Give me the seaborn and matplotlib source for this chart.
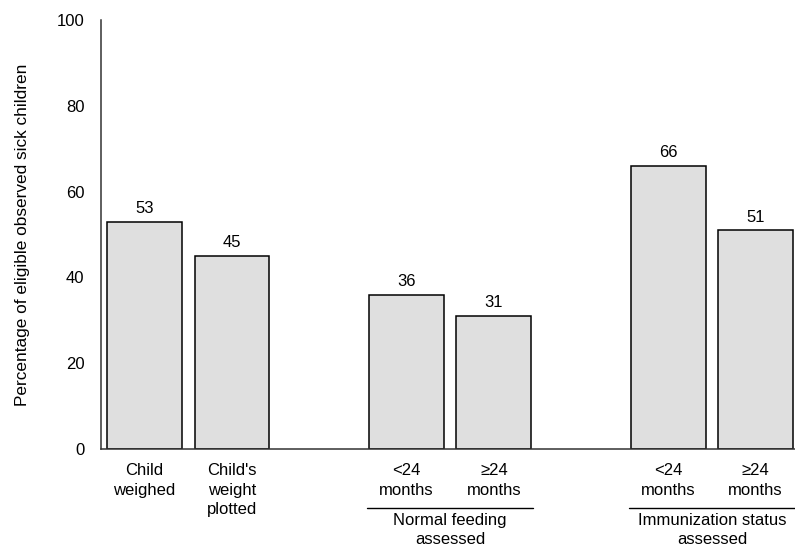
import matplotlib
matplotlib.use("Agg")
import matplotlib.pyplot as plt
import seaborn as sns
import pandas as pd

categories = ["Child\nweighed", "Child's\nweight\nplotted", "<24\nmonths", "≥24\nmonths", "<24\nmonths", "≥24\nmonths"]
positions = [0, 1, 3, 4, 6, 7]
values = [53, 45, 36, 31, 66, 51]
groups = ["Normal feeding\nassessed", "Immunization status\nassessed"]
group_spans = [(3, 4), (6, 7)]
y_ticks = [0, 20, 40, 60, 80, 100]

sns.set_style("white")
plt.rcParams['font.family'] = ['Liberation Sans', 'DejaVu Sans']
for k in ["text.color", "axes.labelcolor", "xtick.color", "ytick.color"]:
    plt.rcParams[k] = "black"

FS = 12

df = pd.DataFrame({"pos": positions, "val": values})

fig = plt.figure(figsize=(7.95, 5.48), dpi=100)
ax = fig.add_axes([101/795, 1-449/548, 1-101/795, (449-20)/548])

sns.barplot(data=df, x="pos", y="val", native_scale=True, width=0.857,
            color="#dfdfdf", saturation=1, edgecolor="black", linewidth=1.1, ax=ax)

ax.set_xlim(-0.5, 7.45)
ax.set_ylim(0, 100)
ax.set_yticks(y_ticks)
ax.set_yticklabels([str(t) for t in y_ticks], fontsize=FS)
ax.set_xticks(positions)
ax.set_xticklabels(categories, fontsize=FS, linespacing=1.4, va="top")
ax.tick_params(axis="both", length=0)
ax.tick_params(axis="y", pad=12)
ax.tick_params(axis="x", pad=10)
ax.set_xlabel("")
ax.set_ylabel("Percentage of eligible observed sick children", fontsize=12.4, labelpad=19)

for s in ["top", "right"]:
    ax.spines[s].set_visible(False)
for s in ["left", "bottom"]:
    ax.spines[s].set_color("#333333")
    ax.spines[s].set_linewidth(1.1)

for p, v in zip(positions, values):
    ax.annotate(str(v), (p, v), xytext=(0, 4), textcoords="offset points",
                ha="center", va="bottom", fontsize=FS)

trans = ax.get_xaxis_transform()
for label, (a, b) in zip(groups, group_spans):
    ax.plot([a - 0.45, b + 0.45], [-0.137, -0.137], transform=trans, color="black",
            linewidth=1.0, clip_on=False)
    ax.text((a + b) / 2, -0.150, label, transform=trans, ha="center", va="top",
            fontsize=FS, linespacing=1.3)

fig.savefig("out.png", dpi=100)
